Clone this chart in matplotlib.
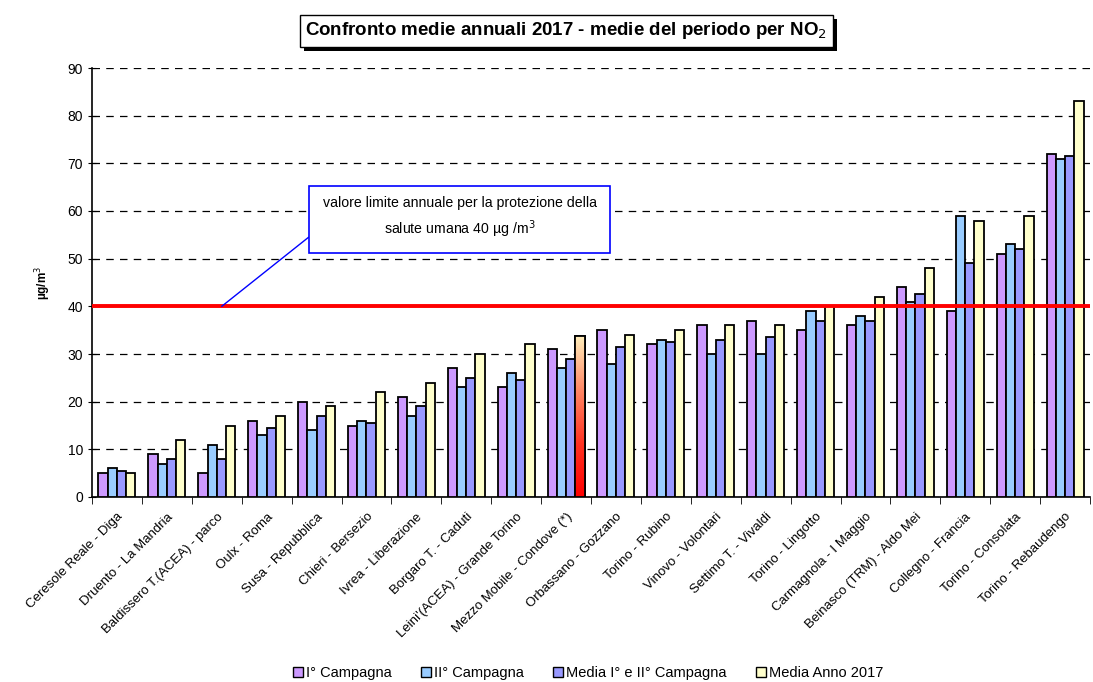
import numpy as np
import matplotlib
matplotlib.use("Agg")
import matplotlib.pyplot as plt
from matplotlib.patches import Patch
import matplotlib.patheffects as pe

plt.rcParams['font.family'] = ['Liberation Sans', 'DejaVu Sans']

stazioni = [
    "Ceresole Reale - Diga", "Druento - La Mandria", "Baldissero T.(ACEA) - parco",
    "Oulx - Roma", "Susa - Repubblica", "Chieri - Bersezio", "Ivrea - Liberazione",
    "Borgaro T. - Caduti", "Leini'(ACEA) - Grande Torino", "Mezzo Mobile - Condove (*)",
    "Orbassano - Gozzano", "Torino - Rubino", "Vinovo - Volontari", "Settimo T. - Vivaldi",
    "Torino - Lingotto", "Carmagnola - I Maggio", "Beinasco (TRM) - Aldo Mei",
    "Collegno - Francia", "Torino - Consolata", "Torino - Rebaudengo",
]
campagna_1 = [5, 9, 5, 16, 20, 15, 21, 27, 23, 31, 35, 32, 36, 37, 35, 36, 44, 39, 51, 72]
campagna_2 = [6, 7, 11, 13, 14, 16, 17, 23, 26, 27, 28, 33, 30, 30, 39, 38, 41, 59, 53, 71]
media_campagne = [5.5, 8, 8, 14.5, 17, 15.5, 19, 25, 24.5, 29, 31.5, 32.5, 33, 33.5, 37, 37,
                  42.5, 49, 52, 71.5]
media_anno = [5, 12, 15, 17, 19, 22, 24, 30, 32, 33.7, 34, 35, 36, 36, 40, 42, 48, 58, 59, 83]
limite = 40

serie = [
    ("I° Campagna", campagna_1, "#CC99FF"),
    ("II° Campagna", campagna_2, "#99CCFF"),
    ("Media I° e II° Campagna", media_campagne, "#9999FF"),
    ("Media Anno 2017", media_anno, "#FFFFCC"),
]

fig = plt.figure(figsize=(10.93, 6.82), dpi=100)
ax = fig.add_axes([92 / 1093, 1 - 497 / 682, 998 / 1093, 429 / 682])

x = np.arange(len(stazioni))
w = 0.185
bars = {}
for i, (nome, vals, col) in enumerate(serie):
    bars[nome] = ax.bar(x + (i - 1.5) * w, vals, width=w, color=col, edgecolor="black",
                        linewidth=1.3, zorder=3)

# the mobile station's annual mean is drawn with a red gradient
rect = bars["Media Anno 2017"][stazioni.index("Mezzo Mobile - Condove (*)")]
x0, y0 = rect.get_x(), rect.get_y()
x1, y1 = x0 + rect.get_width(), y0 + rect.get_height()
grad = np.linspace(0, 1, 256).reshape(-1, 1)
cmap = matplotlib.colors.LinearSegmentedColormap.from_list(
    "rosso", ["#FF0000", "#FF3322", "#FF8866", "#FFEEBB"])
img = ax.imshow(grad, extent=[x0, x1, y0, y1], origin="lower", aspect="auto", cmap=cmap, zorder=3.5)
img.set_clip_path(rect)
ax.bar(rect.get_x() + rect.get_width() / 2, rect.get_height(), width=w, fill=False,
       edgecolor="black", linewidth=1.3, zorder=4)

ax.axhline(limite, color="#FF0000", linewidth=2.8, zorder=5)

ax.set_xlim(-0.5, len(stazioni) - 0.5)
ax.set_ylim(0, 90)
ax.set_yticks(range(0, 91, 10))
ax.yaxis.grid(True, linestyle=(0, (6, 5)), color="black", linewidth=0.9, zorder=0)
ax.set_axisbelow(True)
ax.tick_params(axis="y", labelsize=10, direction="inout", length=6)
ax.set_ylabel("µg/m$^3$", fontsize=8.5, fontweight="bold", labelpad=10)

ax.set_xticks(x)
ax.set_xticklabels(stazioni, rotation=45, ha="right", rotation_mode="anchor", fontsize=9.5)
ax.tick_params(axis="x", length=0, pad=10)
ax.set_xticks(np.arange(-0.5, len(stazioni), 1), minor=True)
ax.tick_params(axis="x", which="minor", length=5, direction="out")

for s in ("top", "right"):
    ax.spines[s].set_visible(False)
ax.spines["left"].set_linewidth(1.2)
ax.spines["bottom"].set_linewidth(1.2)

ax.annotate("valore limite annuale per la protezione della\nsalute umana 40 µg /m$^3$",
            xy=(2.1, limite), xytext=(6.87, 58.5), ha="center", va="center", fontsize=10.2,
            linespacing=1.5,
            bbox=dict(boxstyle="square,pad=0.95", fc="white", ec="#0000FF", lw=1.2),
            arrowprops=dict(arrowstyle="-", color="#0000FF", lw=1, shrinkA=0, shrinkB=0,
                            relpos=(0.0, 0.32)),
            zorder=6)

titolo = fig.text(0.518, 0.955, "Confronto medie annuali 2017 - medie del periodo per NO$_2$",
                  ha="center", va="center", fontsize=13.5, fontweight="bold",
                  bbox=dict(boxstyle="square,pad=0.3", fc="white", ec="black", lw=1))
titolo.get_bbox_patch().set_path_effects(
    [pe.SimplePatchShadow(offset=(3, -3), shadow_rgbFace="black", alpha=1), pe.Normal()])

handles = [Patch(facecolor=c, edgecolor="black", label=n) for n, _, c in serie]
fig.legend(handles=handles, loc="center", bbox_to_anchor=(0.538, 0.013), ncol=4, frameon=False,
           fontsize=10.5, handlelength=0.7, handleheight=0.7, handletextpad=0.2, columnspacing=2.0)

fig.savefig("out.png", dpi=100)
